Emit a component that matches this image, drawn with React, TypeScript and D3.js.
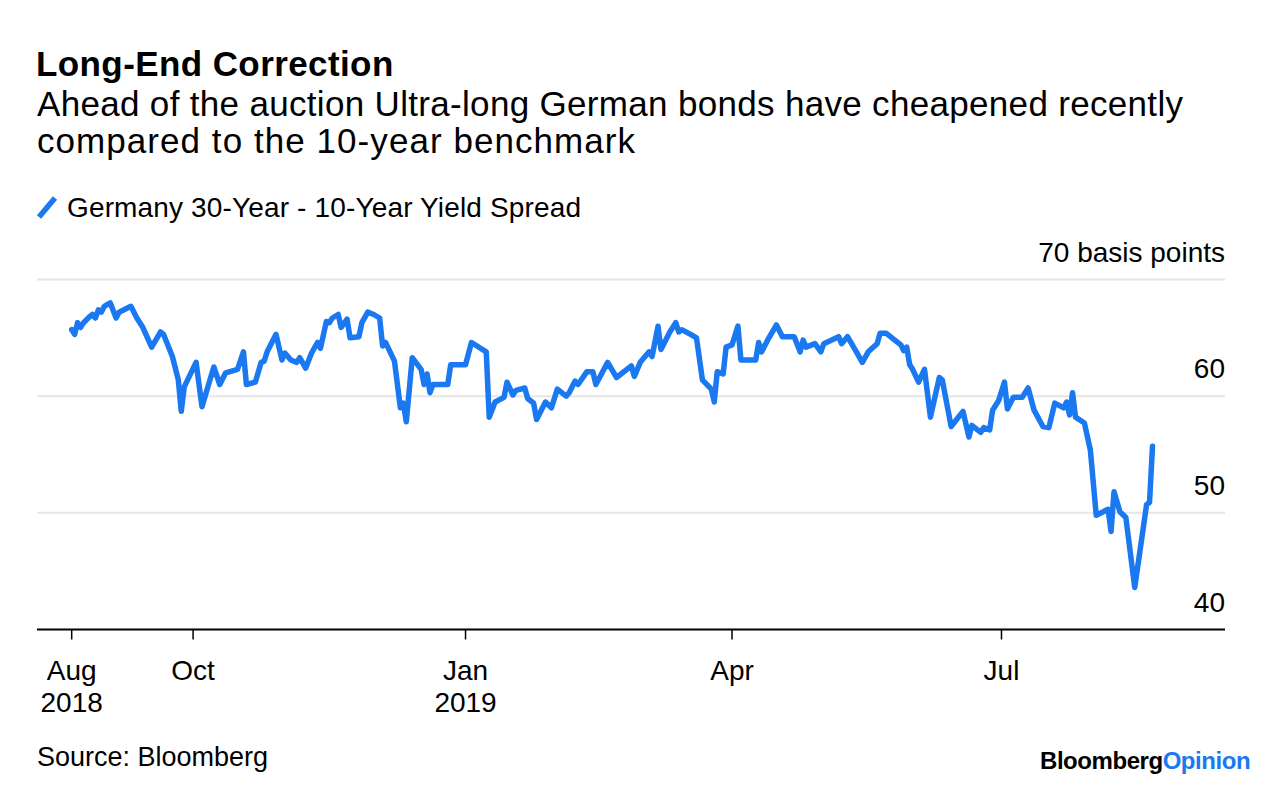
import React from "react";
import * as d3 from "d3";

const title = "Long-End Correction";
const subtitleLines = [
  "Ahead of the auction Ultra-long German bonds have cheapened recently",
  "compared to the 10-year benchmark",
];
const legendLabel = "Germany 30-Year - 10-Year Yield Spread";
const unitLabel = "basis points";
const sourceText = "Source: Bloomberg";

const dates = [
  "2018-08-21", "2018-08-22", "2018-08-23", "2018-08-24", "2018-08-25", "2018-08-27", "2018-08-28", "2018-08-29",
  "2018-08-30", "2018-08-31", "2018-09-01", "2018-09-03", "2018-09-05", "2018-09-06", "2018-09-10", "2018-09-12",
  "2018-09-14", "2018-09-17", "2018-09-20", "2018-09-21", "2018-09-24", "2018-09-26", "2018-09-27", "2018-09-28",
  "2018-10-02", "2018-10-04", "2018-10-06", "2018-10-08", "2018-10-10", "2018-10-12", "2018-10-16", "2018-10-18",
  "2018-10-19", "2018-10-22", "2018-10-24", "2018-10-25", "2018-10-26", "2018-10-29", "2018-10-31", "2018-11-01",
  "2018-11-03", "2018-11-05", "2018-11-06", "2018-11-08", "2018-11-10", "2018-11-12", "2018-11-13", "2018-11-15",
  "2018-11-16", "2018-11-17", "2018-11-19", "2018-11-20", "2018-11-22", "2018-11-23", "2018-11-26", "2018-11-27",
  "2018-11-29", "2018-12-01", "2018-12-03", "2018-12-04", "2018-12-05", "2018-12-08", "2018-12-10", "2018-12-11",
  "2018-12-12", "2018-12-14", "2018-12-17", "2018-12-18", "2018-12-19", "2018-12-20", "2018-12-21", "2018-12-26",
  "2018-12-27", "2019-01-01", "2019-01-03", "2019-01-08", "2019-01-09", "2019-01-11", "2019-01-14", "2019-01-15",
  "2019-01-17", "2019-01-18", "2019-01-21", "2019-01-22", "2019-01-24", "2019-01-25", "2019-01-28", "2019-01-30",
  "2019-02-01", "2019-02-04", "2019-02-05", "2019-02-07", "2019-02-08", "2019-02-11", "2019-02-13", "2019-02-14",
  "2019-02-18", "2019-02-21", "2019-02-26", "2019-02-27", "2019-03-01", "2019-03-04", "2019-03-05", "2019-03-07",
  "2019-03-08", "2019-03-11", "2019-03-13", "2019-03-14", "2019-03-15", "2019-03-18", "2019-03-20", "2019-03-22",
  "2019-03-25", "2019-03-26", "2019-03-27", "2019-03-29", "2019-03-30", "2019-04-01", "2019-04-03", "2019-04-04",
  "2019-04-09", "2019-04-10", "2019-04-11", "2019-04-13", "2019-04-16", "2019-04-18", "2019-04-22", "2019-04-24",
  "2019-04-25", "2019-04-26", "2019-04-29", "2019-05-01", "2019-05-02", "2019-05-07", "2019-05-08", "2019-05-10",
  "2019-05-13", "2019-05-15", "2019-05-17", "2019-05-20", "2019-05-21", "2019-05-23", "2019-05-28", "2019-05-29",
  "2019-05-30", "2019-05-31", "2019-06-01", "2019-06-03", "2019-06-05", "2019-06-07", "2019-06-10", "2019-06-11",
  "2019-06-14", "2019-06-18", "2019-06-20", "2019-06-21", "2019-06-24", "2019-06-25", "2019-06-27", "2019-06-28",
  "2019-06-30", "2019-07-02", "2019-07-03", "2019-07-05", "2019-07-08", "2019-07-10", "2019-07-12", "2019-07-15",
  "2019-07-17", "2019-07-19", "2019-07-22", "2019-07-23", "2019-07-24", "2019-07-25", "2019-07-26", "2019-07-29",
  "2019-07-31", "2019-08-02", "2019-08-06", "2019-08-07", "2019-08-08", "2019-08-10", "2019-08-12", "2019-08-15",
  "2019-08-19", "2019-08-20", "2019-08-21",
];

const spreadValues = [
  65.7, 65.3, 66.3, 65.9, 66.3, 66.8, 67.0, 66.7,
  67.4, 67.2, 67.7, 68.0, 66.7, 67.2, 67.7, 66.7,
  65.9, 64.2, 65.5, 65.3, 63.4, 61.4, 58.7, 60.8,
  62.9, 59.1, 60.8, 62.5, 61.0, 62.0, 62.3, 63.8,
  61.0, 61.2, 62.9, 63.0, 63.8, 65.3, 63.1, 63.7,
  63.1, 62.9, 63.3, 62.4, 63.7, 64.6, 64.1, 66.4,
  66.3, 66.7, 67.0, 65.9, 66.6, 65.0, 65.1, 66.3,
  67.2, 67.0, 66.7, 64.3, 64.6, 63.0, 59.0, 59.4,
  57.8, 63.3, 62.3, 61.0, 61.9, 60.3, 61.0, 61.0,
  62.7, 62.7, 64.6, 63.8, 58.2, 59.5, 59.9, 61.2,
  60.1, 60.5, 60.7, 59.8, 59.4, 58.0, 59.5, 59.0,
  60.6, 60.0, 60.3, 61.3, 61.0, 62.1, 62.1, 61.0,
  62.9, 61.6, 62.6, 61.7, 62.9, 63.8, 63.4, 66.0,
  64.0, 65.5, 66.3, 65.5, 65.7, 65.3, 65.0, 61.4,
  60.6, 59.5, 62.1, 61.9, 64.2, 64.4, 66.0, 63.1,
  63.1, 64.6, 63.8, 64.8, 66.1, 65.1, 65.1, 63.8,
  64.8, 64.2, 64.5, 63.8, 64.5, 65.1, 64.5, 65.1,
  63.8, 62.9, 63.8, 64.5, 65.4, 65.4, 64.4, 63.9,
  64.2, 62.7, 62.3, 61.2, 62.3, 58.2, 61.6, 61.4,
  57.4, 58.7, 56.5, 57.5, 56.9, 57.3, 57.1, 58.8,
  59.6, 61.2, 58.9, 59.9, 59.9, 60.7, 58.8, 57.4,
  57.3, 59.4, 59.0, 59.5, 58.4, 60.3, 58.2, 57.7,
  55.4, 49.8, 50.3, 48.4, 51.8, 50.1, 49.6, 43.6,
  50.7, 50.9, 55.7,
];

const yTicks = [40, 50, 60, 70];
const xTickDates = ["2018-08-21", "2018-10-01", "2019-01-01", "2019-04-01", "2019-07-01"];
const xTickLabels = [["Aug", "2018"], ["Oct"], ["Jan", "2019"], ["Apr"], ["Jul"]];
const xDomain = ["2018-08-21", "2019-08-21"];
const yDomain = [40, 70];

const W = 1280;
const H = 786;
const FONT = "'Liberation Sans', Arial, Helvetica, sans-serif";
const BLUE = "#1a78f0";

export default function App() {
  const parse = d3.timeParse("%Y-%m-%d");
  const data = dates.map((d, i) => ({ date: parse(d) as Date, value: spreadValues[i] }));

  const x = d3
    .scaleTime()
    .domain(xDomain.map((d) => parse(d) as Date))
    .range([71.7, 1152.5]);
  const y = d3.scaleLinear().domain(yDomain).range([629.5, 279.5]);

  const line = d3
    .line<{ date: Date; value: number }>()
    .x((d) => x(d.date))
    .y((d) => y(d.value))
    .curve(d3.curveLinear);

  const plotLeft = 37;
  const plotRight = 1225;

  return (
    <div style={{ position: "absolute", left: 0, top: 0, width: W, height: H, background: "#fff" }}>
      <svg width={W} height={H} style={{ display: "block", fontFamily: FONT }}>
        <rect x={0} y={0} width={W} height={H} fill="#fff" />
        <text x={36} y={76} fontSize={35} fontWeight="bold" fill="#000" textLength={357} letterSpacing={-0.3}>
          {title}
        </text>
        <text x={37} y={116} fontSize={35} fill="#000" textLength={1146}>
          {subtitleLines[0]}
        </text>
        <text x={37} y={153} fontSize={35} fill="#000" textLength={598}>
          {subtitleLines[1]}
        </text>

        {/* legend */}
        <line x1={39} y1={217} x2={55} y2={198} stroke={BLUE} strokeWidth={5.5} strokeLinecap="butt" />
        <text x={67} y={217} fontSize={28} fill="#000" textLength={514}>
          {legendLabel}
        </text>

        {/* gridlines */}
        {yTicks
          .filter((t) => t !== yDomain[0])
          .map((t) => (
            <line key={t} x1={plotLeft} x2={plotRight} y1={y(t)} y2={y(t)} stroke="#e6e6e6" strokeWidth={2} />
          ))}

        {/* y labels */}
        {yTicks.map((t, i) => (
          <text key={t} x={plotRight} y={y(t) - 18} fontSize={28} textAnchor="end" fill="#000">
            {i === yTicks.length - 1 ? `${t} ${unitLabel}` : `${t}`}
          </text>
        ))}

        {/* data line */}
        <path d={line(data) || ""} fill="none" stroke={BLUE} strokeWidth={5.5} strokeLinejoin="round" strokeLinecap="round" />

        {/* x axis */}
        <line x1={plotLeft} x2={plotRight} y1={y(yDomain[0])} y2={y(yDomain[0])} stroke="#000" strokeWidth={2} />
        {xTickDates.map((d, i) => {
          const xp = x(parse(d) as Date);
          return (
            <g key={d}>
              <line x1={xp} x2={xp} y1={y(yDomain[0])} y2={y(yDomain[0]) + 10} stroke="#000" strokeWidth={1.5} />
              {xTickLabels[i].map((lab, j) => (
                <text key={lab} x={xp} y={680 + j * 32} fontSize={28} textAnchor="middle" fill="#000">
                  {lab}
                </text>
              ))}
            </g>
          );
        })}

        {/* source */}
        <text x={37} y={766} fontSize={27} fill="#000">
          {sourceText}
        </text>
        <text x={1040} y={769} fontSize={24} fontWeight="bold" fill="#000" textLength={210} letterSpacing={-0.6}>
          <tspan>Bloomberg</tspan>
          <tspan fill={BLUE}>Opinion</tspan>
        </text>
      </svg>
    </div>
  );
}
